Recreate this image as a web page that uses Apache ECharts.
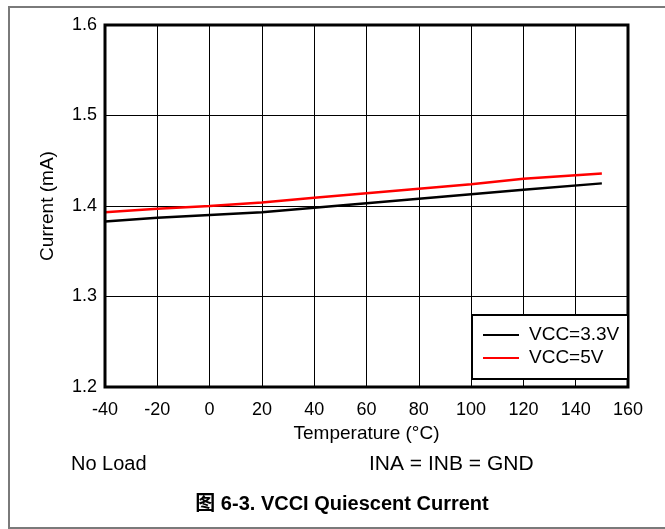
<!DOCTYPE html>
<html><head><meta charset="utf-8">
<script src="https://cdn.jsdelivr.net/npm/echarts@6/dist/echarts.min.js"></script>
<style>html,body{margin:0;padding:0;background:#fff}#c{width:665px;height:529px}</style>
</head><body><div id="c"></div>
<script>
const temps = [-40, -20, 0, 20, 40, 60, 80, 100, 120, 150];
const vcc33 = [1.383, 1.387, 1.390, 1.393, 1.398, 1.403, 1.408, 1.413, 1.418, 1.425];
const vcc5  = [1.393, 1.397, 1.400, 1.404, 1.409, 1.414, 1.419, 1.424, 1.430, 1.436];
const seriesNames = ['VCC=3.3V', 'VCC=5V'];
const xTicks = [-40, 160, 20];
const yTicks = [1.2, 1.6, 0.1];
const F = 'Arial, "Liberation Sans", sans-serif';
const chart = echarts.init(document.getElementById('c'), null, {renderer: 'canvas'});
chart.setOption({
  animation: false,
  backgroundColor: '#fff',
  grid: {left: 105, top: 25, right: 37, bottom: 142},
  xAxis: {
    type: 'value', min: xTicks[0], max: xTicks[1], interval: xTicks[2],
    name: 'Temperature (°C)', nameLocation: 'middle', nameGap: 35,
    nameTextStyle: {color: '#000', fontSize: 19, fontFamily: F},
    axisLine: {show: false}, axisTick: {show: false},
    axisLabel: {color: '#000', fontSize: 18, fontFamily: F, margin: 14},
    splitLine: {show: true, lineStyle: {color: '#000', width: 1}}
  },
  yAxis: {
    type: 'value', min: yTicks[0], max: yTicks[1], interval: yTicks[2],
    name: 'Current (mA)', nameLocation: 'middle', nameGap: 48,
    nameTextStyle: {color: '#000', fontSize: 19, fontFamily: F},
    axisLine: {show: false}, axisTick: {show: false},
    axisLabel: {color: '#000', fontSize: 18, fontFamily: F, margin: 8,
      formatter: v => v.toFixed(1)},
    splitLine: {show: true, lineStyle: {color: '#000', width: 1}}
  },
  legend: {show: false},
  series: [
    {name: seriesNames[0], type: 'line', data: temps.map((t, i) => [t, vcc33[i]]),
     symbol: 'none', lineStyle: {color: '#000', width: 2.5}, itemStyle: {color: '#000'}},
    {name: seriesNames[1], type: 'line', data: temps.map((t, i) => [t, vcc5[i]]),
     symbol: 'none', lineStyle: {color: '#ff0000', width: 2.5}, itemStyle: {color: '#ff0000'}}
  ],
  graphic: [
    {type: 'rect', shape: {x: 105, y: 25, width: 523, height: 362}, style: {fill: 'none', stroke: '#000', lineWidth: 3}, z: 100},
    {type: 'rect', shape: {x: 472, y: 315, width: 156, height: 64}, style: {fill: '#fff', stroke: '#000', lineWidth: 2}, z: 101},
    {type: 'line', shape: {x1: 483, y1: 335, x2: 519, y2: 335}, style: {stroke: '#000', lineWidth: 2}, z: 102},
    {type: 'line', shape: {x1: 483, y1: 358, x2: 519, y2: 358}, style: {stroke: '#ff0000', lineWidth: 2}, z: 102},
    {type: 'text', x: 529, y: 335, style: {text: seriesNames[0], fill: '#000', font: '19px ' + F, textVerticalAlign: 'middle'}, z: 102},
    {type: 'text', x: 529, y: 358, style: {text: seriesNames[1], fill: '#000', font: '19px ' + F, textVerticalAlign: 'middle'}, z: 102},
    {type: 'text', x: 71, y: 464, style: {text: 'No Load', fill: '#000', font: '20px ' + F, textVerticalAlign: 'middle'}},
    {type: 'text', x: 369, y: 464, style: {text: 'INA = INB = GND', fill: '#000', font: '21px ' + F, textVerticalAlign: 'middle'}},
    {type: 'text', x: 342, y: 504, style: {text: '图 6-3. VCCI Quiescent Current', fill: '#000', font: 'bold 20px Arial, "Liberation Sans", "Noto Sans CJK SC", sans-serif', textAlign: 'center', textVerticalAlign: 'middle'}},
    {type: 'rect', shape: {x: 9, y: 7, width: 670, height: 521}, style: {fill: 'none', stroke: '#7a7a7a', lineWidth: 2}}
  ]
});
</script></body></html>
